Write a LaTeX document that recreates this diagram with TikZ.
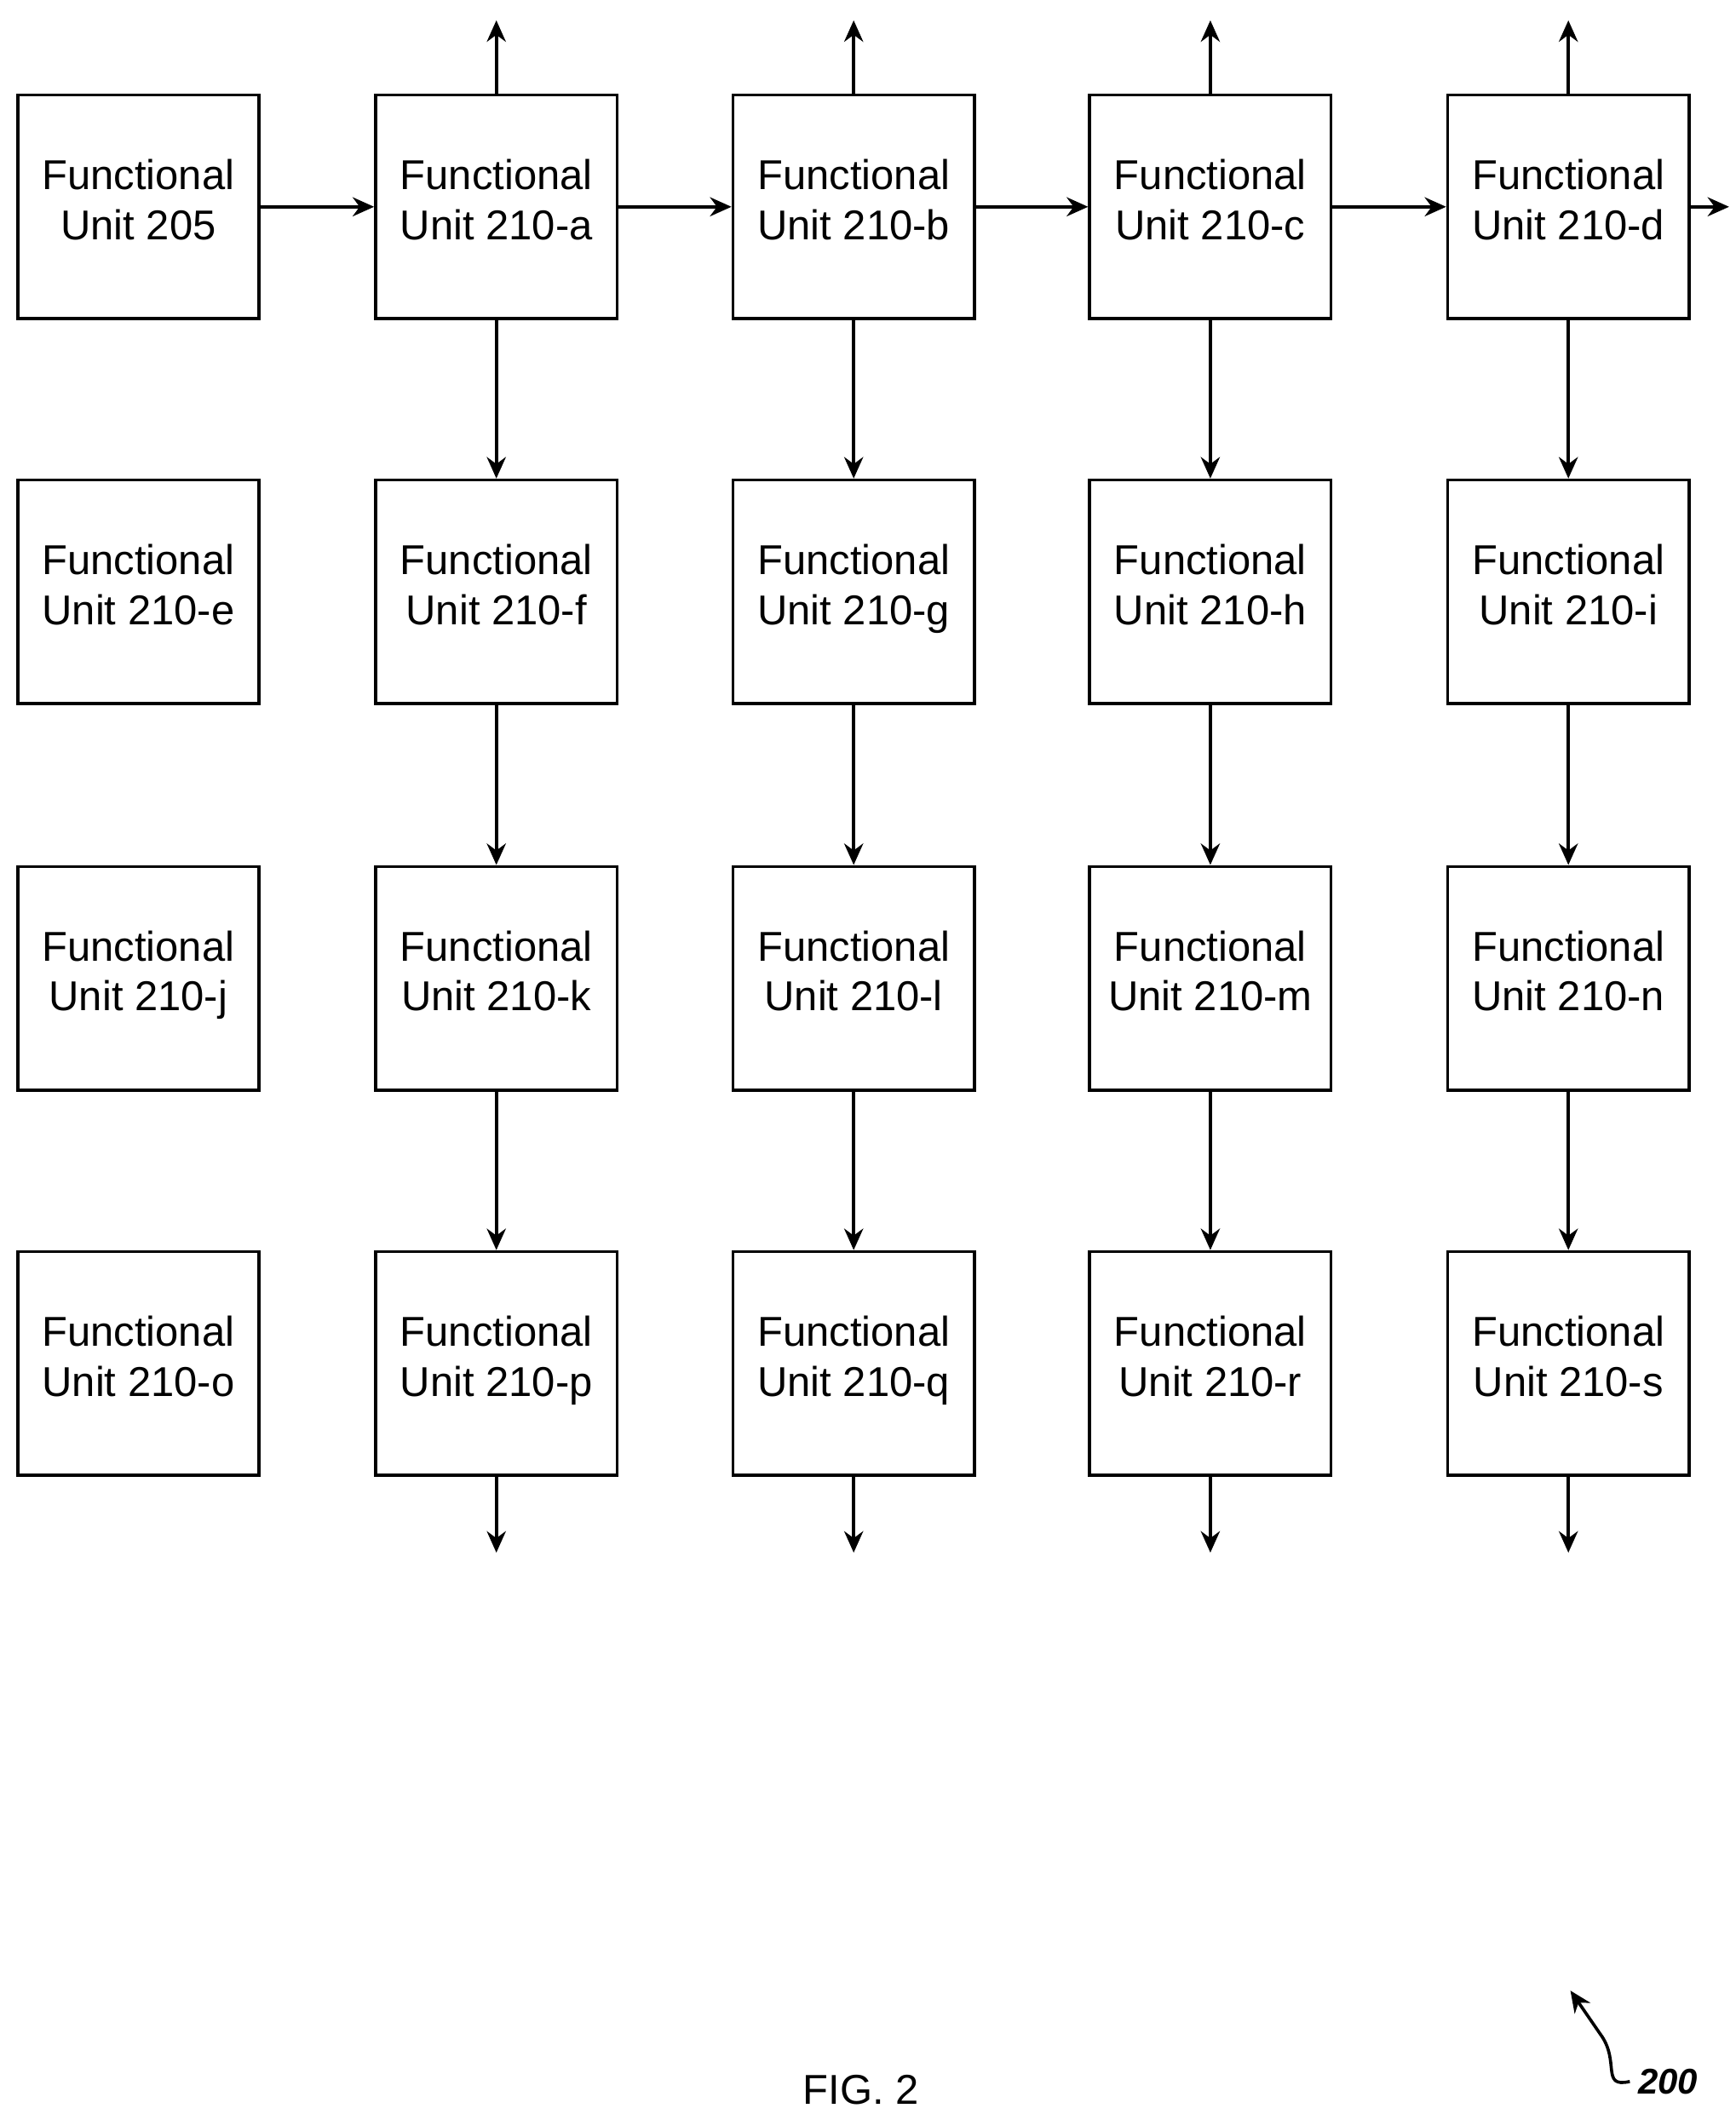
\documentclass[tikz,border=0pt]{standalone}
\usepackage{fontspec}
\setmainfont{Liberation Sans}
\usetikzlibrary{arrows.meta}
\begin{document}
\begin{tikzpicture}[x=0.02cm,y=-0.02cm,
  fu/.style={draw,line width=1.3pt,minimum width=178*0.02cm,minimum height=165*0.02cm,align=center,inner sep=0pt,font=\fontsize{17.5}{21}\selectfont},
  ar/.style={line width=1.3pt,-{Stealth[length=9pt,width=8pt]}}]
\useasboundingbox (0,0) rectangle (1280,1559);
\def\xs{{102,366,629.5,892.5,1156.5}}
\def\ys{{152.5,436.5,721.5,1005.5}}
\node[fu] (u205) at (102,152.5) {Functional\\Unit 205\strut};
\foreach \n/\c/\r in {a/1/0,b/2/0,c/3/0,d/4/0,e/0/1,f/1/1,g/2/1,h/3/1,i/4/1,j/0/2,k/1/2,l/2/2,m/3/2,n/4/2,o/0/3,p/1/3,q/2/3,r/3/3,s/4/3}{
  \pgfmathsetmacro\xx{\xs[\c]}\pgfmathsetmacro\yy{\ys[\r]}
  \node[fu] (u\n) at (\xx,\yy) {Functional\\Unit 210-\n\strut};
}
\draw[ar] (u205) -- (ua);
\draw[ar] (ua) -- (ub);
\draw[ar] (ub) -- (uc);
\draw[ar] (uc) -- (ud);
\coordinate (oe) at (1275,152.5);
\draw[ar] (ud) -- (oe);
\foreach \a/\b/\c/\d in {a/f/k/p,b/g/l/q,c/h/m/r,d/i/n/s}{
  \draw[ar] (u\a) -- (u\b);
  \draw[ar] (u\b) -- (u\c);
  \draw[ar] (u\c) -- (u\d);
  \coordinate (t\a) at (u\a.north |- 0,15);
  \coordinate (b\d) at (u\d.south |- 0,1145);
  \draw[ar] (u\a) -- (t\a);
  \draw[ar] (u\d) -- (b\d);
}
\node[font=\fontsize{17.5}{21}\selectfont] (fig) at (635,1541) {FIG. 2};
\node[font=\fontsize{15}{18}\selectfont\bfseries\itshape] (n200) at (1230,1535) {200};
\coordinate (ae) at (1158,1468);
\draw[line width=1.3pt,-{Stealth[length=9pt,width=8pt]}] (n200.west) .. controls (1180,1540) and (1195,1520) .. (1180,1500) -- (ae);
\end{tikzpicture}
\end{document}
